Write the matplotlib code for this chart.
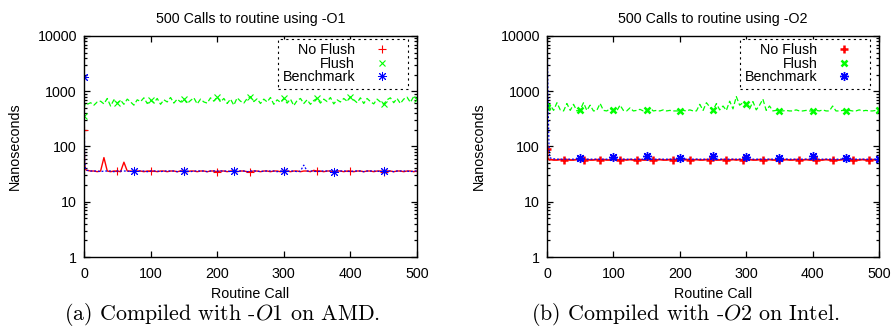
import matplotlib
matplotlib.use("Agg")
import matplotlib.pyplot as plt
from matplotlib.lines import Line2D
from matplotlib.ticker import LogLocator, NullFormatter

plt.rcParams['font.family'] = ['Liberation Sans', 'DejaVu Sans']
plt.rcParams['mathtext.fontset'] = 'cm'

# routine call index (first few calls read one by one, then every 5th)
CALLS = [0, 1, 2, 3, 4] + list(range(5, 501, 5))

# -O1 on AMD (nanoseconds)
o1_noflush = [200, 48, 40, 38, 37,
              37, 36, 36, 35, 36, 63, 36, 35, 36, 36,
              35, 52, 36, 36, 35, 36, 36, 35, 36, 36,
              36, 35, 36, 36, 35, 36, 36, 35, 36, 36,
              35, 36, 36, 35, 36, 36, 35, 36, 36, 35,
              36, 36, 35, 36, 36, 35, 36, 36, 35, 35,
              36, 36, 35, 36, 36, 35, 36, 36, 35, 36,
              36, 35, 36, 36, 35, 36, 36, 35, 37, 36,
              36, 35, 36, 36, 35, 36, 36, 35, 36, 36,
              35, 36, 36, 35, 36, 36, 35, 36, 36, 35,
              36, 36, 35, 36, 36, 35, 36, 36, 35, 36]
o1_flush = [350, 560, 570, 550, 560,
            580, 620, 560, 640, 660, 590, 740, 540, 700, 610,
            690, 580, 720, 640, 560, 700, 650, 760, 600, 690,
            620, 740, 580, 700, 640, 770, 610, 720, 640, 730,
            600, 680, 760, 590, 720, 640, 610, 760, 660, 790,
            640, 740, 600, 720, 560, 760, 660, 610, 740, 800,
            650, 730, 600, 720, 640, 770, 580, 700, 630, 740,
            610, 720, 550, 680, 740, 600, 700, 580, 680, 740,
            610, 720, 650, 770, 590, 700, 640, 740, 660, 790,
            700, 620, 760, 600, 740, 650, 590, 720, 640, 580,
            700, 760, 620, 740, 600, 720, 780, 630, 800, 720]
o1_bench = [1800, 60, 42, 38, 37,
            37, 36, 36, 36, 35, 36, 36, 36, 35, 36,
            36, 36, 36, 35, 36, 36, 36, 36, 35, 36,
            36, 36, 35, 36, 36, 36, 36, 35, 36, 36,
            36, 35, 36, 36, 36, 36, 35, 36, 36, 36,
            36, 36, 36, 35, 36, 36, 36, 36, 35, 36,
            36, 36, 35, 36, 36, 36, 36, 35, 36, 36,
            36, 36, 36, 35, 36, 46, 36, 36, 36, 35,
            36, 36, 36, 36, 35, 36, 36, 36, 36, 35,
            36, 36, 36, 35, 36, 36, 36, 36, 35, 36,
            36, 36, 35, 36, 36, 36, 36, 35, 36, 36]

# -O2 on Intel (nanoseconds)
o2_noflush = [90, 62, 60, 58, 57,
              58, 57, 57, 58, 57, 58, 57, 57, 58, 57,
              57, 58, 57, 57, 58, 57, 58, 57, 57, 58,
              57, 57, 58, 57, 58, 57, 57, 58, 57, 57,
              58, 57, 57, 58, 57, 57, 58, 57, 58, 57,
              57, 58, 57, 57, 58, 57, 57, 58, 57, 58,
              57, 57, 58, 57, 57, 58, 57, 58, 57, 57,
              58, 57, 57, 58, 57, 57, 58, 57, 57, 58,
              57, 58, 57, 57, 58, 57, 57, 58, 57, 57,
              58, 57, 57, 58, 57, 58, 57, 57, 58, 57,
              57, 58, 57, 57, 58, 57, 57, 58, 57, 57]
o2_flush = [520, 460, 600, 470, 500,
            560, 450, 620, 460, 440, 600, 450, 580, 440, 460,
            620, 450, 560, 440, 450, 600, 450, 440, 480, 450,
            440, 560, 450, 440, 500, 440, 450, 470, 440, 450,
            500, 440, 450, 440, 460, 440, 450, 440, 440, 440,
            450, 440, 460, 440, 440, 580, 450, 620, 520, 450,
            600, 460, 540, 450, 660, 480, 800, 560, 620, 580,
            480, 650, 460, 560, 720, 450, 540, 440, 450, 440,
            440, 450, 440, 440, 460, 440, 440, 450, 440, 440,
            450, 440, 460, 440, 440, 540, 440, 440, 450, 440,
            450, 440, 440, 460, 440, 450, 440, 440, 450, 450]
o2_bench = [15000, 2500, 400, 110, 66,
            62, 60, 59, 59, 59, 59, 59, 59, 59, 61,
            59, 59, 59, 59, 59, 59, 59, 59, 59, 65,
            59, 59, 59, 59, 59, 59, 59, 59, 59, 66,
            59, 59, 59, 59, 59, 59, 59, 59, 59, 61,
            59, 59, 59, 59, 59, 59, 59, 59, 59, 66,
            59, 59, 59, 59, 59, 59, 59, 59, 59, 65,
            59, 59, 59, 59, 59, 59, 59, 59, 59, 61,
            59, 59, 59, 59, 59, 59, 59, 59, 59, 66,
            59, 59, 59, 59, 59, 59, 59, 59, 59, 61,
            59, 59, 59, 59, 59, 59, 59, 59, 59, 59]

LABELS = ['No Flush', 'Flush', 'Benchmark']
TITLES = ['500 Calls to routine using -O1', '500 Calls to routine using -O2']
CAPTIONS = [r'(a) Compiled with -$O1$ on AMD.', r'(b) Compiled with -$O2$ on Intel.']

RED, GREEN, BLUE = '#ff0000', '#00ff00', '#0000ff'
STAR = (8, 2, 0)


def mark_idx(step, start=0):
    # index of the sample closest to every step-th call
    return [min(range(len(CALLS)), key=lambda i: abs(CALLS[i] - c))
            for c in range(start, 501, step)]


def draw(ax, series, steps, bold, title):
    mew = 1.8 if bold else 0.8
    mew_star = 1.0 if bold else 0.7
    noflush, flush, bench = series
    ax.plot(CALLS, noflush, color=RED, lw=1.3 if bold else 1.0, ls='-',
            marker='+', ms=6, mew=mew, markevery=mark_idx(steps[0]))
    ax.plot(CALLS, flush, color=GREEN, lw=0.9, ls=(0, (4, 2)),
            marker='x', ms=5, mew=mew, markevery=mark_idx(steps[1]))
    ax.plot(CALLS, bench, color=BLUE, lw=0.9, ls=(0, (1.5, 1.5)),
            marker=STAR, ms=6.5, mew=mew_star, markevery=mark_idx(steps[2]))

    ax.set_yscale('log')
    ax.set_ylim(1, 10000)
    ax.set_xlim(0, 500)
    ax.set_xticks(range(0, 501, 100))
    ax.set_yticks([1, 10, 100, 1000, 10000])
    ax.set_yticklabels(['1', '10', '100', '1000', '10000'])
    ax.yaxis.set_minor_locator(LogLocator(base=10, subs=range(2, 10)))
    ax.yaxis.set_minor_formatter(NullFormatter())
    ax.tick_params(which='both', direction='in', top=True, right=True,
                   labelsize=10.3, width=0.9)
    ax.tick_params(which='major', length=4.5)
    ax.tick_params(which='minor', length=2.3)
    ax.tick_params(axis='x', pad=7)
    ax.tick_params(axis='y', pad=5)
    for sp in ax.spines.values():
        sp.set_linewidth(1.0)

    ax.set_title(title, fontsize=10.3, pad=9)
    ax.set_xlabel('Routine Call', fontsize=10.3)
    ax.set_ylabel('Nanoseconds', fontsize=10.3)
    ax.xaxis.set_label_coords(0.5, -0.135)
    ax.yaxis.set_label_coords(-0.185, 0.5)

    handles = [Line2D([], [], ls='none', color=RED, marker='+', ms=6, mew=mew),
               Line2D([], [], ls='none', color=GREEN, marker='x', ms=5, mew=mew),
               Line2D([], [], ls='none', color=BLUE, marker=STAR, ms=6.5, mew=mew_star)]
    leg = ax.legend(handles, LABELS, loc='upper right',
                    bbox_to_anchor=(0.973, 0.986), borderaxespad=0,
                    markerfirst=False, fancybox=False, framealpha=1,
                    edgecolor='black', handlelength=3.0, handletextpad=0.4,
                    labelspacing=-0.03, borderpad=0.3, fontsize=10.3)
    leg.get_frame().set_linestyle((0, (2, 3)))
    leg.get_frame().set_linewidth(0.8)


fig = plt.figure(figsize=(8.93, 3.27), dpi=100)
ax1 = fig.add_axes([0.094, 0.214, 0.373, 0.676])
ax2 = fig.add_axes([0.6125, 0.214, 0.372, 0.676])

draw(ax1, (o1_noflush, o1_flush, o1_bench), (50, 50, 75), False, TITLES[0])
draw(ax2, (o2_noflush, o2_flush, o2_bench), (27, 50, 50), True, TITLES[1])

fig.text(0.249, 0.037, CAPTIONS[0], family='cmr10', fontsize=15.8,
         ha='center', va='center')
fig.text(0.767, 0.037, CAPTIONS[1], family='cmr10', fontsize=15.8,
         ha='center', va='center')

fig.savefig('out.png', dpi=100)
